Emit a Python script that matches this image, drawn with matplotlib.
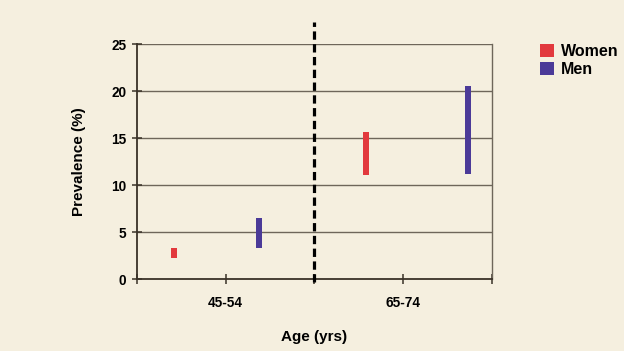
import matplotlib
matplotlib.use("Agg")
import matplotlib.pyplot as plt
from matplotlib.patches import Patch

# ---- data ----
age_groups = ["45-54", "65-74"]
women_low = [2.2, 11.1]
women_high = [3.3, 15.6]
men_low = [3.3, 11.2]
men_high = [6.5, 20.5]
y_ticks = [0, 5, 10, 15, 20, 25]

# ---- layout constants ----
group_centers = [0.5, 1.5]
women_offsets = [-0.292, -0.212]
men_offsets = [0.186, 0.365]
bar_w = 0.034

BG = "#f5efdf"
RED = "#e2393d"
PURPLE = "#4b3a98"
DARK = "#3a3228"
GRID = "#6e665a"

plt.rcParams['font.family'] = ['Liberation Sans', 'DejaVu Sans']
plt.rcParams['font.weight'] = 'bold'

fig = plt.figure(figsize=(6.24, 3.51), dpi=100, facecolor=BG)
ax = fig.add_axes([0.219, 0.2051, 0.570, 0.6695])
ax.set_facecolor(BG)

wx = [c + o for c, o in zip(group_centers, women_offsets)]
mx = [c + o for c, o in zip(group_centers, men_offsets)]
ax.bar(wx, [h - l for h, l in zip(women_high, women_low)], bottom=women_low,
       width=bar_w, color=RED, zorder=3)
ax.bar(mx, [h - l for h, l in zip(men_high, men_low)], bottom=men_low,
       width=bar_w, color=PURPLE, zorder=3)

ax.set_xlim(0, 2)
ax.set_ylim(0, 25)
ax.set_yticks(y_ticks)
ax.set_yticklabels([str(v) for v in y_ticks], fontsize=9.8, fontweight='bold')
ax.set_xticks([0, 0.5, 1, 1.5, 2])
ax.set_xticklabels(["", age_groups[0], "", age_groups[1], ""], fontsize=9.8, fontweight='bold')
ax.tick_params(axis='both', direction='inout', length=7, width=1.1, color=DARK, pad=3)
ax.tick_params(axis='y', pad=4)
ax.tick_params(axis='x', pad=9)

for v in y_ticks[1:]:
    ax.axhline(v, color=GRID, lw=1.0, zorder=1)

for s in ['left', 'bottom']:
    ax.spines[s].set_color(DARK)
    ax.spines[s].set_linewidth(1.3)
ax.spines['right'].set_color(GRID)
ax.spines['right'].set_linewidth(1.0)
ax.spines['top'].set_visible(False)

ax.axvline(1.0, ymin=-0.013, ymax=1.094, color='black', lw=2.3,
           linestyle=(0, (2.6, 1.4)), clip_on=False, zorder=4)

ax.set_ylabel("Prevalence (%)", fontsize=11, fontweight='bold', labelpad=18)
ax.set_xlabel("Age (yrs)", fontsize=11, fontweight='bold', labelpad=14)

handles = [Patch(facecolor=RED, edgecolor='none', label="Women"),
           Patch(facecolor=PURPLE, edgecolor='none', label="Men")]
fig.legend(handles=handles, loc='upper left', bbox_to_anchor=(540 / 624, 1 - 44 / 351),
           frameon=False, handlelength=0.85, handleheight=0.85,
           handletextpad=0.45, labelspacing=0.2, borderpad=0, borderaxespad=0,
           prop={'weight': 'bold', 'size': 11.5})

fig.savefig("out.png", dpi=100, facecolor=BG)
